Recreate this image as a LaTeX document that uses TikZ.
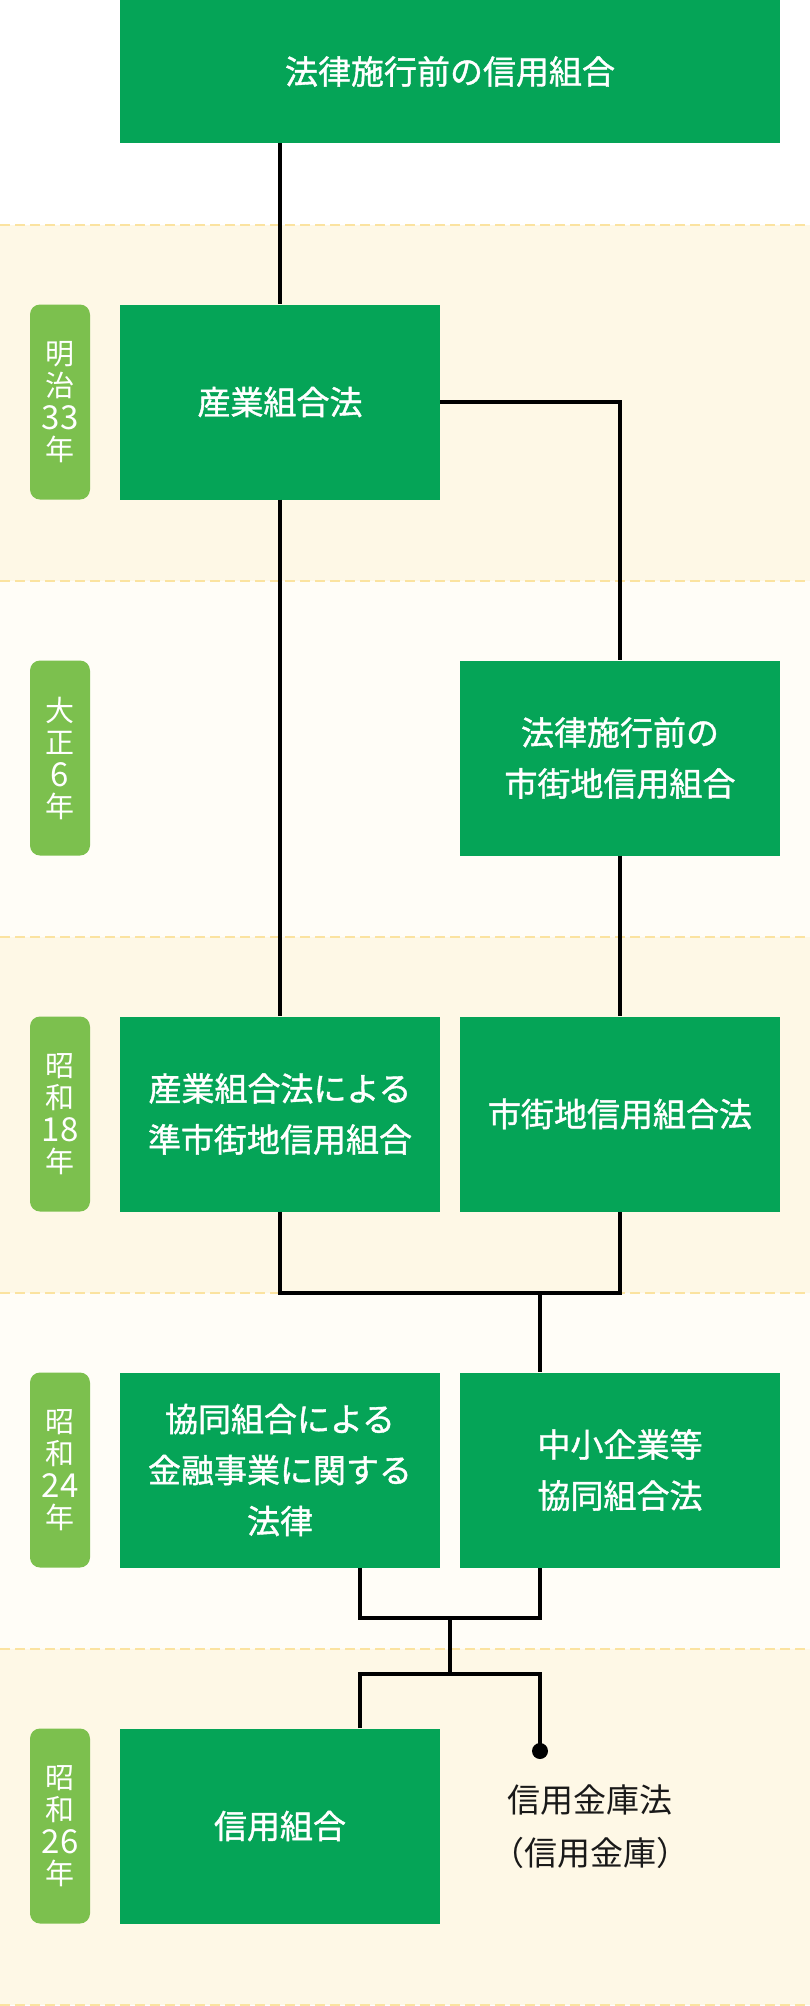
\documentclass[tikz,border=0pt]{standalone}
\usepackage{fontspec}
\newfontfamily\jp{Noto Sans CJK JP}
\newfontfamily\jpbox[FakeBold=1.2]{Noto Sans CJK JP}
\definecolor{lawgreen}{HTML}{05A457}
\definecolor{eragreen}{HTML}{7CC04E}
\definecolor{bandA}{HTML}{FEF8E6}
\definecolor{bandB}{HTML}{FFFDF7}
\definecolor{bandrule}{HTML}{FBE3A0}
\tikzset{
  lawbox/.style={fill=lawgreen, text=white, minimum width=320pt, minimum height=195pt,
    inner sep=0pt, align=center, font=\jpbox\fontsize{33}{51}\selectfont},
  erabox/.style={fill=eragreen, text=white, rounded corners=10pt, minimum width=60pt,
    minimum height=195pt, inner sep=0pt, align=center, font=\jp\fontsize{29}{32}\selectfont},
  link/.style={line width=3.5pt, black},
}
\begin{document}
\begin{tikzpicture}[x=1pt, y=-1pt]
        \def\bandh{356}
        \def\yr#1{{\fontsize{33}{32}\selectfont\raisebox{-1pt}{#1}}}
        \useasboundingbox (0,0) rectangle (810,2006);
        \fill[white] (0,0) rectangle (810,225);
        \foreach \i/\c in {0/bandA,1/bandB,2/bandA,3/bandB,4/bandA}
          \fill[\c] (0,{225+\bandh*\i}) rectangle (810,{225+\bandh*(\i+1)});
        \foreach \i in {0,...,5}
          \draw[bandrule, line width=2pt, dash pattern=on 10pt off 5pt] (0,{225+\bandh*\i}) -- (810,{225+\bandh*\i});

        % years
        \node[erabox] (meiji33) at (60,402) {明\\治\\\yr{33}\\年};
        \node[erabox] (taisho6) at (60,758) {大\\正\\\yr{6}\\年};
        \node[erabox] (showa18) at (60,1114) {昭\\和\\\yr{18}\\年};
        \node[erabox] (showa24) at (60,1470) {昭\\和\\\yr{24}\\年};
        \node[erabox] (showa26) at (60,1826) {昭\\和\\\yr{26}\\年};

        % laws
        \node[lawbox, minimum width=660pt, minimum height=143pt] (pre) at (450,71.5) {法律施行前の信用組合};
        \node[lawbox] (sangyo) at (280,402) {産業組合法};
        \node[lawbox] (premkt) at (620,758) {法律施行前の\\市街地信用組合};
        \node[lawbox] (semimkt) at (280,1114) {産業組合法による\\準市街地信用組合};
        \node[lawbox] (mktlaw) at (620,1114) {市街地信用組合法};
        \node[lawbox] (kinyu) at (280,1470) {協同組合による\\金融事業に関する\\法律};
        \node[lawbox] (chusho) at (620,1470) {中小企業等\\協同組合法};
        \node[lawbox] (shinkumi) at (280,1826) {信用組合};
        \node[align=center, font=\jp\fontsize{33}{53}\selectfont, text=black!90] (shinkin) at (590,1827) {信用金庫法\\（信用金庫）};

        \coordinate (j1) at (540,1293);
        \coordinate (j2) at (450,1618);
        \coordinate (j3) at (450,1674);
        \node[circle, fill=black, inner sep=0pt, minimum size=16pt] (tip) at (540,1751) {};

        \draw[link] (pre.south -| sangyo.north) -- (sangyo.north);
        \draw[link] (sangyo.east) -| (premkt.north);
        \draw[link] (sangyo.south) -- (semimkt.north);
        \draw[link] (premkt.south) -- (mktlaw.north);
        \draw[link] (semimkt.south) |- (j1) -| (mktlaw.south);
        \draw[link] (j1) -- (chusho.north -| j1);
        \draw[link] ([xshift=80pt]kinyu.south) |- (j2) -| (chusho.south -| j1);
        \draw[link] (j2) -- (j3);
        \draw[link] ([xshift=80pt]shinkumi.north) |- (j3) -| (tip.center);

    \end{tikzpicture}
\end{document}
